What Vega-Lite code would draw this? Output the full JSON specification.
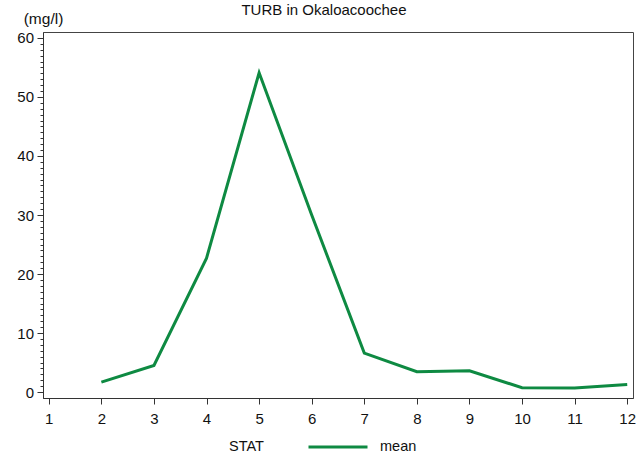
{
  "$schema": "https://vega.github.io/schema/vega-lite/v6.json",
  "autosize": {"type": "none"},
  "width": 590,
  "height": 366,
  "padding": {"left": 43, "top": 32, "right": 5, "bottom": 60},
  "background": "white",
  "config": {
    "font": "Liberation Sans",
    "view": {"stroke": "#444", "strokeWidth": 1},
    "axis": {"grid": false, "domainColor": "#333", "tickColor": "#333", "labelColor": "#111", "labelFont": "Liberation Sans", "labelFontSize": 15, "titleFont": "Liberation Sans"}
  },
  "title": {"text": "TURB in Okaloacoochee", "font": "Liberation Sans", "fontSize": 15, "fontWeight": "normal", "color": "#111", "anchor": "middle", "dx": -14, "offset": -6},
  "data": {"values": [
    {"month": 2, "value": 1.7, "stat": "mean"},
    {"month": 3, "value": 4.5, "stat": "mean"},
    {"month": 4, "value": 22.7, "stat": "mean"},
    {"month": 5, "value": 54.1, "stat": "mean"},
    {"month": 6, "value": 30.0, "stat": "mean"},
    {"month": 7, "value": 6.6, "stat": "mean"},
    {"month": 8, "value": 3.45, "stat": "mean"},
    {"month": 9, "value": 3.6, "stat": "mean"},
    {"month": 10, "value": 0.75, "stat": "mean"},
    {"month": 11, "value": 0.68, "stat": "mean"},
    {"month": 12, "value": 1.3, "stat": "mean"}
  ]},
  "layer": [
    {
      "mark": {"type": "line", "opacity": 0},
      "encoding": {
        "x": {"field": "month", "type": "quantitative", "scale": {"domain": [0.89, 12.11], "nice": false, "zero": false},
          "axis": {"values": [1,2,3,4,5,6,7,8,9,10,11,12], "tickSize": 6, "labelPadding": 7, "title": null, "labelFlush": false}},
        "y": {"field": "value", "type": "quantitative", "scale": {"domain": [-1, 61], "nice": false},
          "axis": {"orient": "left", "values": [0,1,2,3,4,5,6,7,8,9,10,11,12,13,14,15,16,17,18,19,20,21,22,23,24,25,26,27,28,29,30,31,32,33,34,35,36,37,38,39,40,41,42,43,44,45,46,47,48,49,50,51,52,53,54,55,56,57,58,59,60], "labels": false, "domain": false, "tickSize": 3, "title": null}}
      }
    },
    {
      "mark": {"type": "line", "strokeWidth": 3},
      "encoding": {
        "x": {"field": "month", "type": "quantitative", "scale": {"domain": [0.89, 12.11], "nice": false, "zero": false},
          "axis": {"values": [1,2,3,4,5,6,7,8,9,10,11,12], "tickSize": 6, "labelPadding": 7, "title": null, "labelFlush": false}},
        "y": {"field": "value", "type": "quantitative", "scale": {"domain": [-1, 61], "nice": false},
          "axis": {"orient": "left", "values": [0,10,20,30,40,50,60], "tickSize": 6, "labelPadding": 3.5, "title": "(mg/l)", "titleAngle": 0, "titleX": 0, "titleY": -13.5, "titleAlign": "center", "titleBaseline": "middle", "titleFontSize": 15.5, "titleFontWeight": "normal", "titleColor": "#111"}},
        "color": {"field": "stat", "type": "nominal", "scale": {"range": ["#0e8a42"]},
          "legend": {"orient": "none", "legendX": 186, "legendY": 384, "direction": "horizontal", "title": "STAT", "titleOrient": "left", "titleAnchor": "end", "titleFontSize": 14.5, "titleFontWeight": "normal", "titleColor": "#111", "titlePadding": 43, "titleBaseline": "bottom", "symbolType": "stroke", "symbolSize": 3481, "symbolStrokeWidth": 3, "labelFontSize": 14.5, "labelColor": "#111", "labelOffset": 11}}
      }
    }
  ],
  "resolve": {"axis": {"y": "independent"}}
}
